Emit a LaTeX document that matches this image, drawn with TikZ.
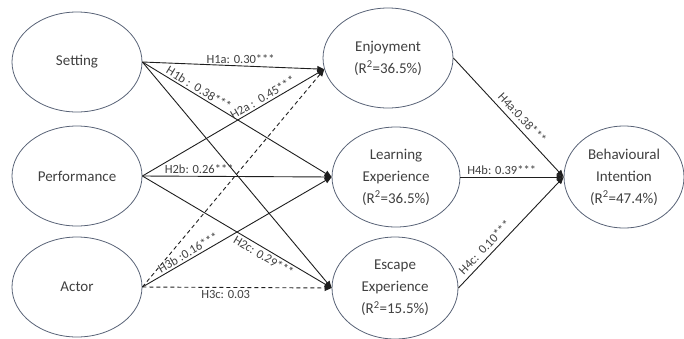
\documentclass[tikz,border=0pt]{standalone}
\usepackage{fontspec}
\setmainfont{Carlito}
\usepackage{tikz}
\usetikzlibrary{arrows.meta,shapes.geometric}

\definecolor{rimcol}{RGB}{88,98,118}
\definecolor{inkcol}{RGB}{64,64,64}
\definecolor{pathcol}{RGB}{30,30,30}

\begin{document}
\begin{tikzpicture}[x=1pt,y=-1pt]
        \tikzset{LatentStyle/.style={shape=ellipse, draw=rimcol, line width=0.8pt,
            minimum width=130pt, minimum height=100pt, inner sep=0pt,
            align=center, text=inkcol, font=\fontsize{15}{22}\selectfont}}
        \tikzset{PathStyle/.style={draw=pathcol, line width=0.9pt,
            -{Triangle[length=7pt,width=6pt]}}}
        \tikzset{WeightStyle/.style={text=inkcol, font=\fontsize{12.5}{14}\selectfont,
            inner sep=2pt}}
        \tikzset{NullStyle/.style={dash pattern=on 4pt off 3pt}}

        \useasboundingbox (0,0) rectangle (684,338);

        % exogenous constructs
        \node[LatentStyle] (set) at (77,62) {Setting};
        \node[LatentStyle] (perf) at (77,176) {Performance};
        \node[LatentStyle] (act) at (77,287) {Actor};

        % mediating experiences
        \node[LatentStyle] (enj) at (388,58) {Enjoyment\\(R\textsuperscript{2}=36.5\%)};
        \node[LatentStyle, minimum width=128pt] (learn) at (396,177)
          {Learning\\Experience\\(R\textsuperscript{2}=36.5\%)};
        \node[LatentStyle, minimum width=126pt, minimum height=102pt] (esc) at (395,288)
          {Escape\\Experience\\(R\textsuperscript{2}=15.5\%)};

        % outcome
        \node[LatentStyle, minimum width=120pt, minimum height=102pt] (bi) at (624,177)
          {Behavioural\\Intention\\(R\textsuperscript{2}=47.4\%)};

        \draw[PathStyle] (set.east) -- node[WeightStyle, above, pos=.54] {H1a: 0.30***} (enj.190);
        \draw[PathStyle] (set.east) -- node[WeightStyle, sloped, above, pos=.28] {H1b :\ \ 0.38***} (learn.west);
        \draw[PathStyle] (set.east) -- (esc.west);

        \draw[PathStyle] (perf.east) -- node[WeightStyle, sloped, above, pos=.68] {H2a :\ \ 0.45***} (enj.190);
        \draw[PathStyle] (perf.east) -- node[WeightStyle, above, pos=.3] {H2b: 0.26***} (learn.west);
        \draw[PathStyle] (perf.east) -- node[WeightStyle, sloped, below, pos=.66] {H2c: 0.29***} (esc.west);

        \draw[PathStyle, NullStyle] (act.east) -- (enj.190);
        \draw[PathStyle] (act.east) -- node[WeightStyle, sloped, above, pos=.26] {H3b :0.16***} (learn.west);
        \draw[PathStyle, NullStyle] (act.east) -- node[WeightStyle, below, pos=.44] {H3c: 0.03} (esc.west);

        \draw[PathStyle] (enj.east) -- node[WeightStyle, sloped, above=3pt, pos=.56] {H4a:0.38***} (bi.west);
        \draw[PathStyle] (learn.east) -- node[WeightStyle, above, pos=.4] {H4b: 0.39***} (bi.west);
        \draw[PathStyle] (esc.east) -- node[WeightStyle, sloped, above=2pt, pos=.31] {H4c:\ \ 0.10***} (bi.west);
      \end{tikzpicture}
\end{document}
